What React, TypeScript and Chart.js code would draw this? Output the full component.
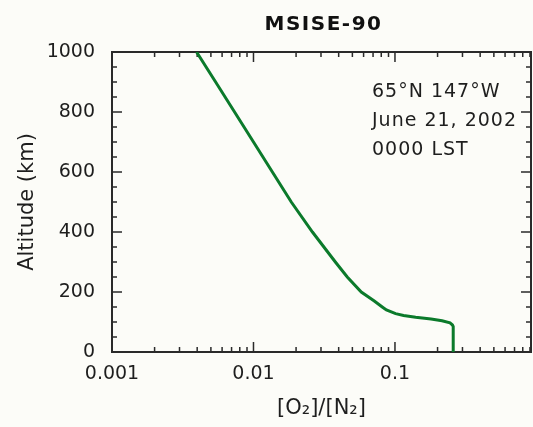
import { useEffect, useRef } from 'react';
import { Chart, registerables } from 'chart.js';

Chart.register(...registerables);

const TITLE = 'MSISE-90';
const X_TITLE = '[O₂]/[N₂]';
const Y_TITLE = 'Altitude (km)';
const NOTES = ['65°N 147°W', 'June 21, 2002', '0000 LST'];

const X_MIN = 0.001;
const X_MAX = 0.915;
const X_TICKS = [0.001, 0.01, 0.1];
const Y_MIN = 0;
const Y_MAX = 1000;
const Y_STEP = 200;
const Y_MINOR_STEP = 50;

const ALTITUDE = [1000, 900, 800, 700, 600, 500, 400, 300, 250, 200, 170, 150, 140, 128, 122, 116, 110, 104, 97, 90, 85, 60, 30, 0];
const O2_N2_RATIO = [0.00396, 0.0054, 0.00735, 0.01, 0.0136, 0.0185, 0.0261, 0.0379, 0.046, 0.0578, 0.0714, 0.0813, 0.087, 0.101, 0.115, 0.14, 0.18, 0.215, 0.245, 0.255, 0.258, 0.258, 0.258, 0.258];

const FONT = 'DejaVu Sans';
const TEXT_COLOR = '#1e1e1e';
const AXIS_COLOR = '#2a2a2a';
const LINE_COLOR = '#0b7a2b';

const framePlugin = {
  id: 'frameTicks',
  beforeDatasetsDraw(chart: any) {
    const { ctx, chartArea: a, scales } = chart;
    const x = scales.x;
    const y = scales.y;
    ctx.save();
    ctx.strokeStyle = AXIS_COLOR;
    ctx.lineWidth = 1.5;
    ctx.beginPath();
    for (let e = -3; e <= 0; e++) {
      for (let k = 1; k <= 9; k++) {
        const v = k * Math.pow(10, e);
        if (v < X_MIN * 0.999 || v > X_MAX) continue;
        const px = x.getPixelForValue(v);
        const len = k === 1 ? 10 : 5;
        ctx.moveTo(px, a.bottom);
        ctx.lineTo(px, a.bottom - len);
        ctx.moveTo(px, a.top);
        ctx.lineTo(px, a.top + len);
      }
    }
    for (let v = Y_MIN; v <= Y_MAX; v += Y_MINOR_STEP) {
      const py = y.getPixelForValue(v);
      const len = v % Y_STEP === 0 ? 10 : 5;
      ctx.moveTo(a.left, py);
      ctx.lineTo(a.left + len, py);
      ctx.moveTo(a.right, py);
      ctx.lineTo(a.right - len, py);
    }
    ctx.stroke();
    ctx.lineWidth = 2;
    ctx.strokeRect(a.left, a.top, a.right - a.left, a.bottom - a.top);
    ctx.restore();
  },
  afterDraw(chart: any) {
    const { ctx, chartArea: a } = chart;
    ctx.save();
    ctx.fillStyle = '#111';
    ctx.font = `bold 20px "${FONT}"`;
    (ctx as any).letterSpacing = '1.5px';
    ctx.textAlign = 'center';
    ctx.textBaseline = 'middle';
    ctx.fillText(TITLE, (a.left + a.right) / 2 + 2, 25);
    ctx.fillStyle = TEXT_COLOR;
    ctx.font = `19px "${FONT}"`;
    (ctx as any).letterSpacing = '1px';
    ctx.textAlign = 'left';
    NOTES.forEach((t, i) => {
      ctx.fillText(t, 372, 92 + i * 29);
    });
    ctx.restore();
  },
};

export default function App() {
  const ref = useRef<HTMLCanvasElement | null>(null);

  useEffect(() => {
    if (!ref.current) return;
    const chart = new Chart(ref.current, {
      type: 'scatter',
      data: {
        datasets: [
          {
            data: ALTITUDE.map((alt, i) => ({ x: O2_N2_RATIO[i], y: alt })),
            showLine: true,
            borderColor: LINE_COLOR,
            backgroundColor: LINE_COLOR,
            borderWidth: 3,
            pointRadius: 0,
            tension: 0,
          },
        ],
      },
      options: {
        responsive: false,
        animation: false,
        devicePixelRatio: 1,
        layout: { padding: { top: 52, right: 2, left: 0, bottom: 0 } },
        plugins: {
          legend: { display: false },
          title: { display: false },
          tooltip: { enabled: false },
        },
        scales: {
          x: {
            type: 'logarithmic',
            min: X_MIN,
            max: X_MAX,
            afterBuildTicks: (s: any) => {
              s.ticks = X_TICKS.map((v) => ({ value: v }));
            },
            afterFit: (s: any) => {
              s.height = 75;
            },
            grid: { display: false, drawTicks: false },
            border: { display: false },
            ticks: {
              autoSkip: false,
              maxRotation: 0,
              padding: 11,
              color: TEXT_COLOR,
              font: { family: FONT, size: 19 },
              callback: (v: any) => String(v),
            },
            title: {
              display: true,
              text: X_TITLE,
              color: TEXT_COLOR,
              font: { family: FONT, size: 21 },
              padding: { top: 0, bottom: 6 },
            },
          },
          y: {
            type: 'linear',
            min: Y_MIN,
            max: Y_MAX,
            afterFit: (s: any) => {
              s.width = 112;
            },
            grid: { display: false, drawTicks: false },
            border: { display: false },
            ticks: {
              stepSize: Y_STEP,
              padding: 17,
              color: TEXT_COLOR,
              font: { family: FONT, size: 19 },
              callback: (v: any) => String(v),
            },
            title: {
              display: true,
              text: Y_TITLE,
              color: TEXT_COLOR,
              font: { family: FONT, size: 21 },
              padding: { top: 15, bottom: 0 },
            },
          },
        },
      },
      plugins: [framePlugin],
    });
    return () => chart.destroy();
  }, []);

  return (
    <div
      style={{
        position: 'fixed',
        left: 0,
        top: 0,
        width: 533,
        height: 427,
        background: '#fcfcf8',
      }}
    >
      <canvas ref={ref} width={533} height={427} />
    </div>
  );
}
